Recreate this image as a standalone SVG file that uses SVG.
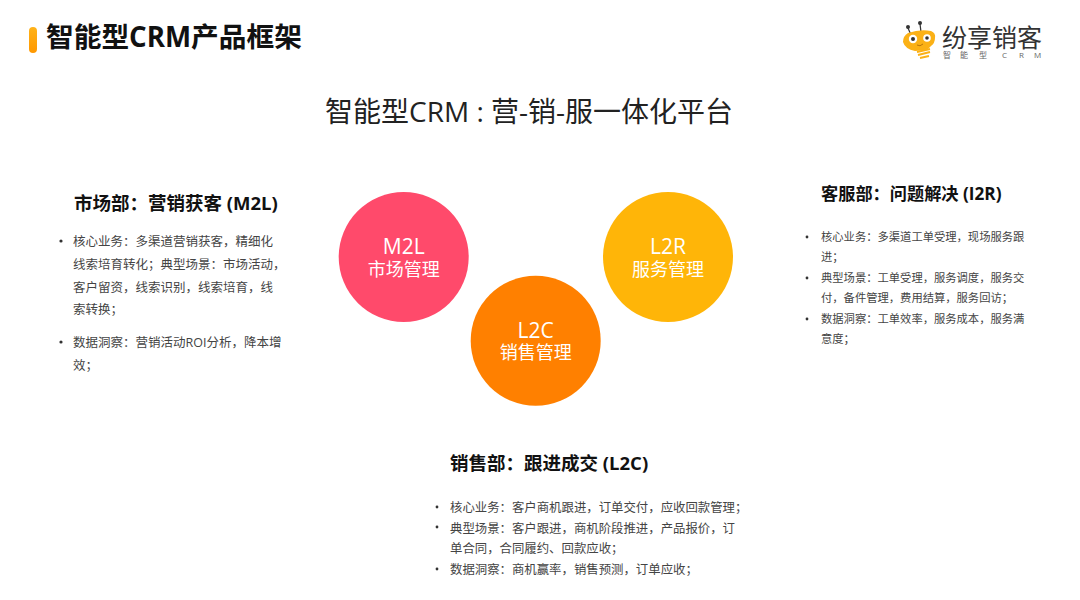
<svg xmlns="http://www.w3.org/2000/svg" width="1080" height="600" viewBox="0 0 1080 600">
<defs>
<linearGradient id="bar" x1="0" y1="0" x2="0" y2="1"><stop offset="0" stop-color="#ffb31a"/><stop offset="1" stop-color="#ff9800"/></linearGradient>
</defs>
<style>
text{font-family:"Open Sans","Noto Sans CJK SC",sans-serif}
.h{font-size:18.5px;font-weight:700;fill:#111}
.l{font-size:12.5px;fill:#444}
.r{font-size:11.3px;fill:#444}
.b{font-size:12.4px;fill:#444}
.c1{font-size:21px;fill:#fff;text-anchor:middle}
.c2{font-size:18px;fill:#fff;text-anchor:middle}
</style>
<rect width="1080" height="600" fill="#fff"/>
<g id="header">
<rect x="29" y="27" width="8" height="26" rx="4" fill="url(#bar)"/>
<text x="46" y="47" font-size="27.7" font-weight="700" fill="#111">智能型CRM产品框架</text>
<text x="325" y="122" font-size="28" fill="#222">智能型CRM : 营-销-服一体化平台</text>
</g>
<g id="logo">
<line x1="908" y1="28" x2="911" y2="35" stroke="#333" stroke-width="1.2"/>
<line x1="920" y1="24" x2="921" y2="32" stroke="#333" stroke-width="1.2"/>
<circle cx="908" cy="27" r="2" fill="#333"/>
<circle cx="920" cy="23" r="2" fill="#333"/>
<path d="M908 33 Q920 29 931 31 Q936 33 935 38 Q935 43 931 46 L927 50 L915 51 Q905 49 903 42 Q903 36 908 33Z" fill="#fbb116"/>
<circle cx="913" cy="39" r="4.2" fill="#fff"/><circle cx="913" cy="39" r="2" fill="#333"/>
<circle cx="927" cy="38" r="3.8" fill="#fff"/><circle cx="927" cy="38" r="1.8" fill="#333"/>
<path d="M917 45 Q920 47 923 44" stroke="#b9770a" stroke-width="1" fill="none"/>
<path d="M917 52 L930 49 M918 55 L930 52 M920 58 L929 56" stroke="#fbb116" stroke-width="2" fill="none"/>
<text x="942" y="47" font-size="25" fill="#333">纷享销客</text>
<text x="943 960 979 1002 1019 1034" y="58" font-size="8" fill="#666">智能型CRM</text>
</g>
<g id="node-m2l">
<circle cx="403.7" cy="257" r="65" fill="#ff4a6b"/>
<text class="c1" x="403.7" y="254">M2L</text>
<text class="c2" x="403.7" y="276">市场管理</text>
</g>
<g id="node-l2r">
<circle cx="668" cy="257" r="65" fill="#ffb508"/>
<text class="c1" x="668" y="254">L2R</text>
<text class="c2" x="668" y="276">服务管理</text>
</g>
<g id="node-l2c">
<circle cx="535.7" cy="340.7" r="65" fill="#ff8000"/>
<text class="c1" x="535.7" y="338">L2C</text>
<text class="c2" x="535.7" y="359">销售管理</text>
</g>
<g id="connectors"></g>
<g id="text-m2l">
<text class="h" x="74" y="210">市场部：营销获客 (M2L)</text>
<circle cx="61" cy="241" r="1.6" fill="#333"/>
<text class="l" x="73" y="246">核心业务：多渠道营销获客，精细化</text>
<text class="l" x="73" y="269">线索培育转化；典型场景：市场活动，</text>
<text class="l" x="73" y="292">客户留资，线索识别，线索培育，线</text>
<text class="l" x="73" y="314">索转换；</text>
<circle cx="61" cy="342" r="1.6" fill="#333"/>
<text class="l" x="73" y="347">数据洞察：营销活动ROI分析，降本增</text>
<text class="l" x="73" y="370">效；</text>
</g>
<g id="text-i2r">
<text class="h" style="font-size:17.2px" x="821" y="200">客服部：问题解决 (I2R)</text>
<circle cx="807" cy="237" r="1.4" fill="#333"/>
<text class="r" x="821" y="241">核心业务：多渠道工单受理，现场服务跟</text>
<text class="r" x="821" y="261">进；</text>
<circle cx="807" cy="278" r="1.4" fill="#333"/>
<text class="r" x="821" y="282">典型场景：工单受理，服务调度，服务交</text>
<text class="r" x="821" y="302">付，备件管理，费用结算，服务回访；</text>
<circle cx="807" cy="319" r="1.4" fill="#333"/>
<text class="r" x="821" y="323">数据洞察：工单效率，服务成本，服务满</text>
<text class="r" x="821" y="343">意度；</text>
</g>
<g id="text-l2c">
<text class="h" x="450" y="470">销售部：跟进成交 (L2C)</text>
<circle cx="437" cy="507" r="1.4" fill="#333"/>
<text class="b" x="450" y="512">核心业务：客户商机跟进，订单交付，应收回款管理；</text>
<circle cx="437" cy="527" r="1.4" fill="#333"/>
<text class="b" x="450" y="533">典型场景：客户跟进，商机阶段推进，产品报价，订</text>
<text class="b" x="450" y="553">单合同，合同履约、回款应收；</text>
<circle cx="437" cy="569" r="1.4" fill="#333"/>
<text class="b" x="450" y="574">数据洞察：商机赢率，销售预测，订单应收；</text>
</g>
</svg>
